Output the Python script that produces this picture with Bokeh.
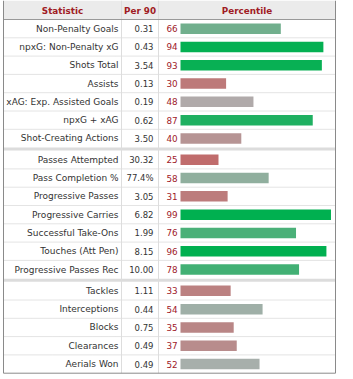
from bokeh.plotting import figure
from bokeh.models import Range1d, ColumnDataSource
from bokeh.core.properties import value
from bokeh.embed import file_html
from bokeh.resources import INLINE

# ---- data ----
stats = ["Non-Penalty Goals", "npxG: Non-Penalty xG", "Shots Total", "Assists",
         "xAG: Exp. Assisted Goals", "npxG + xAG", "Shot-Creating Actions",
         "Passes Attempted", "Pass Completion %", "Progressive Passes",
         "Progressive Carries", "Successful Take-Ons", "Touches (Att Pen)",
         "Progressive Passes Rec",
         "Tackles", "Interceptions", "Blocks", "Clearances", "Aerials Won"]
per90 = ["0.31", "0.43", "3.54", "0.13", "0.19", "0.62", "3.50",
         "30.32", "77.4%", "3.05", "6.82", "1.99", "8.15", "10.00",
         "1.11", "0.44", "0.75", "0.49", "0.49"]
percentiles = [66, 94, 93, 30, 48, 87, 40,
               25, 58, 31, 99, 76, 96, 78,
               33, 54, 35, 37, 52]
section_sizes = [7, 7, 5]
headers = ["Statistic", "Per 90", "Percentile"]

# ---- layout constants ----
W, H = 353, 379
LEFT, RIGHT = 3, 335
COL1, COL2 = 121, 158
HEAD_H = 19
ROW_H = 18.3
GAP = 3.0
BAR_X0 = 180
PX_PER_PCT = 1.52
FONT = "DejaVu Sans"


def pct_color(p):
    gray = (175, 175, 175)
    if p >= 50:
        t = min((p - 50) / 45.0, 1.0)
        end = (0, 176, 80)
    else:
        t = (50 - p) / 50.0
        end = (209, 40, 40)
    c = [round(g + t * (e - g)) for g, e in zip(gray, end)]
    return "#%02x%02x%02x" % tuple(c)


# row centres
ys = []
section_of = []
idx = 0
for s, n in enumerate(section_sizes):
    for _ in range(n):
        ys.append(HEAD_H + ROW_H / 2 + ROW_H * idx + GAP * s)
        section_of.append(s)
        idx += 1

p = figure(width=W, height=H, x_range=Range1d(0, W), y_range=Range1d(H, 0),
           output_backend="svg", toolbar_location=None, min_border=0)
p.axis.visible = False
p.grid.visible = False
p.outline_line_color = None
p.background_fill_color = "white"
p.border_fill_color = "white"
p.extra_x_ranges = {"pct": Range1d(-BAR_X0 / PX_PER_PCT, (W - BAR_X0) / PX_PER_PCT)}

bottom = ys[-1] + ROW_H / 2

# header background
p.quad(left=[LEFT], right=[RIGHT], top=[0], bottom=[HEAD_H],
       fill_color="#ebebeb", line_color=None)

# section separators (thick light bands)
sep_tops, sep_bots = [], []
for i in range(1, len(ys)):
    if section_of[i] != section_of[i - 1]:
        sep_tops.append(ys[i - 1] + ROW_H / 2)
        sep_bots.append(ys[i] - ROW_H / 2)
p.quad(left=[LEFT] * len(sep_tops), right=[RIGHT] * len(sep_tops),
       top=sep_tops, bottom=sep_bots, fill_color="#dcdcdc", line_color=None)

# dotted row separators
dot_y = [ys[i] + ROW_H / 2 for i in range(len(ys) - 1) if section_of[i] == section_of[i + 1]]
p.segment(x0=[LEFT] * len(dot_y), x1=[RIGHT] * len(dot_y), y0=dot_y, y1=dot_y,
          line_color="#c8c8c8", line_width=1, line_dash="1 1")

# column dividers
p.segment(x0=[COL1, COL2], x1=[COL1, COL2], y0=[0, 0], y1=[bottom, bottom],
          line_color="#dddddd", line_width=1)

# header bottom line
p.segment(x0=[LEFT], x1=[RIGHT], y0=[HEAD_H], y1=[HEAD_H], line_color="#999999", line_width=1)

# outer border
p.segment(x0=[LEFT, RIGHT, LEFT], x1=[LEFT, RIGHT, RIGHT], y0=[0, 0, bottom],
          y1=[bottom, bottom, bottom], line_color="#8a8a8a", line_width=1)

# bars
src = ColumnDataSource(dict(y=ys, pct=percentiles, color=[pct_color(v) for v in percentiles],
                            stat=stats, per90=per90, pct_txt=[str(v) for v in percentiles]))
p.hbar(y="y", left=0, right="pct", height=10.5, fill_color="color", line_color=None,
       source=src, x_range_name="pct")

# texts
p.text(x=COL1 - 3, y="y", text="stat", source=src, text_align="right",
       text_baseline="middle", text_font=value(FONT), text_font_size=value("9px"),
       text_color="#333333")
p.text(x=COL2 - 5, y="y", text="per90", source=src, text_align="right",
       text_baseline="middle", text_font=value(FONT), text_font_size=value("8.5px"),
       text_color="#333333")
p.text(x=COL2 + 8, y="y", text="pct_txt", source=src, text_align="left",
       text_baseline="middle", text_font=value(FONT), text_font_size=value("8.8px"),
       text_color="#a0202a")

# headers
hx = [(LEFT + COL1) / 2, (COL1 + COL2) / 2, (COL2 + RIGHT) / 2]
p.text(x=hx, y=[HEAD_H / 2 + 1] * 3, text=headers, text_align="center",
       text_baseline="middle", text_font=value(FONT), text_font_size=value("8.8px"),
       text_font_style="bold", text_color="#a01c24")

open("out.html", "w").write(file_html(p, INLINE))
